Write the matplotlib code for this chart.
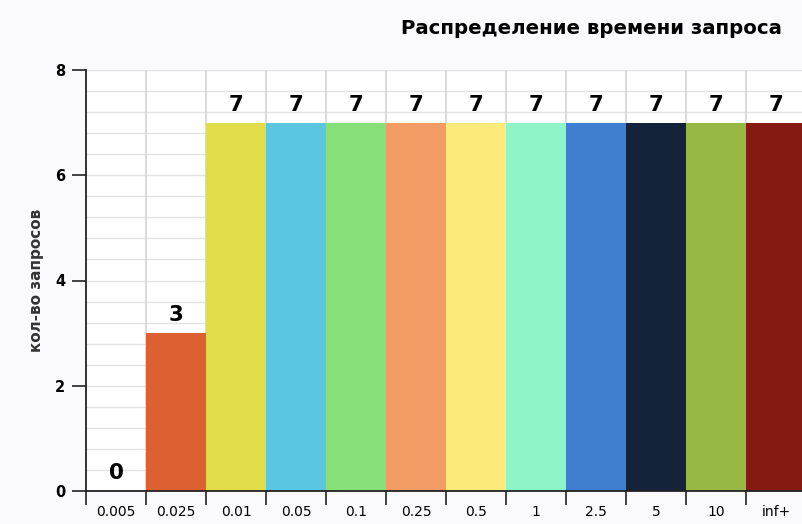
import numpy as np
import matplotlib.pyplot as plt

# query time buckets and request counts
buckets = ['0.005', '0.025', '0.01', '0.05', '0.1', '0.25', '0.5', '1', '2.5', '5', '10', 'inf+']
counts = [0, 3, 7, 7, 7, 7, 7, 7, 7, 7, 7, 7]
colors = ['#ffffff', '#dd6033', '#e0dc4a', '#5bc6e0', '#86df78', '#f39c66',
          '#fceb7a', '#8ff5c8', '#407ecf', '#14233a', '#97b845', '#851a13']

fig = plt.figure(figsize=(8.02, 5.24), dpi=100)
fig.patch.set_facecolor('#fafafc')
ax = fig.add_axes([86/802, 33/524, 720/802, 421/524])
ax.set_facecolor('white')

x = np.arange(len(buckets))
ax.bar(x, counts, width=1.0, align='edge', color=colors, zorder=2)

for xi, c in zip(x, counts):
    ax.text(xi + 0.5, c + 0.15, str(c), ha='center', va='bottom',
            fontsize=15.5, fontweight='bold', color='black', zorder=3)

ax.set_xlim(0, 12)
ax.set_ylim(0, 8)

# grid
for yv in np.arange(0.4, 8.01, 0.4):
    ax.axhline(yv, color='#e2e2e2', lw=1, zorder=1)
for xv in range(1, 12):
    ax.axvline(xv, color='#d4d4d4', lw=1.2, zorder=1)

ax.set_yticks([0, 2, 4, 6, 8])
ax.set_yticklabels(['0', '2', '4', '6', '8'], fontsize=10.5, fontweight='bold')
ax.set_xticks(np.arange(13))
ax.set_xticklabels([])
ax.set_xticks(x + 0.5, minor=True)
ax.set_xticklabels(buckets, minor=True, fontsize=10)
ax.tick_params(axis='x', which='minor', length=0, pad=10)
ax.tick_params(axis='x', which='major', length=10, width=1.2, color='#222222')
ax.tick_params(axis='y', length=10, width=1.2, color='#222222', pad=5)

for s in ['top', 'right']:
    ax.spines[s].set_visible(False)
for s in ['left', 'bottom']:
    ax.spines[s].set_color('#222222')
    ax.spines[s].set_linewidth(1.3)
ax.spines['bottom'].set_zorder(4)

ax.set_ylabel('кол-во запросов', fontsize=11, fontweight='bold', color='#333333', labelpad=8)
fig.text(0.975, 0.945, 'Распределение времени запроса', ha='right', va='center',
         fontsize=14.2, fontweight='bold')

fig.savefig('out.png', dpi=100, facecolor=fig.get_facecolor())
